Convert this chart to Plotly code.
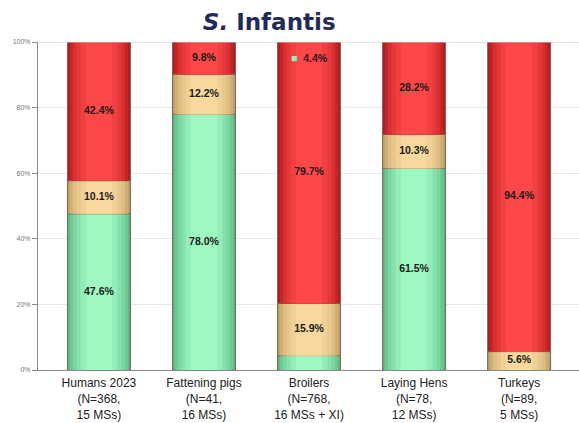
import numpy as np
import plotly.graph_objects as go

categories = [
    "Humans 2023<br>(N=368,<br>15 MSs)",
    "Fattening pigs<br>(N=41,<br>16 MSs)",
    "Broilers<br>(N=768,<br>16 MSs + XI)",
    "Laying Hens<br>(N=78,<br>12 MSs)",
    "Turkeys<br>(N=89,<br>5 MSs)",
]
green_vals = [47.6, 78.0, 4.4, 61.5, 0.0]
tan_vals = [10.1, 12.2, 15.9, 10.3, 5.6]
red_vals = [42.4, 9.8, 79.7, 28.2, 94.4]

# edge -> centre shades to fake the cylinder look
shades = {
    "green": ["#5cb380", "#6cc790", "#7ad6a0", "#86e2ac", "#93edb8", "#9ef8c2"],
    "tan": ["#bf9c66", "#cfae74", "#ddbd82", "#e7c78b", "#f0d094", "#f8d89c"],
    "red": ["#ad1b1e", "#c42427", "#d82f31", "#e6383a", "#f24042", "#fd4749"],
}
widths = [0.6, 0.56, 0.5, 0.43, 0.35, 0.25]

x = np.arange(len(categories))
g = np.array(green_vals)
t = np.array(tan_vals)
r = np.array(red_vals)
segments = [("green", g, np.zeros_like(g)), ("tan", t, g), ("red", r, g + t)]

fig = go.Figure()
for name, vals, base in segments:
    for i, (w, c) in enumerate(zip(widths, shades[name])):
        fig.add_trace(go.Bar(
            x=x, y=vals, base=base, width=w,
            marker=dict(color=c, line=dict(width=1 if i == 0 else 0, color="#7a6a5a")),
            showlegend=False, hoverinfo="skip",
        ))

# segment labels (the small broiler green share is labelled separately)
for name, vals, base in segments:
    labels = ["%.1f%%" % v if v >= 5 else "" for v in vals]
    fig.add_trace(go.Scatter(
        x=x, y=base + vals / 2, mode="text", text=labels,
        textfont=dict(size=10.5, color="#1a1a1a", family="Liberation Sans"),
        texttemplate="<b>%{text}</b>", showlegend=False, hoverinfo="skip",
    ))

fig.add_annotation(
    x=2, y=95.2, xref="x", yref="y", showarrow=False,
    text="<span style='color:#8ef3b4'>■</span>  <b>4.4%</b>",
    font=dict(size=10.5, color="#1a1a1a", family="Liberation Sans"),
)

fig.update_layout(
    barmode="overlay",
    width=579, height=423,
    margin=dict(l=38, r=0, t=42, b=53),
    paper_bgcolor="white", plot_bgcolor="white",
    title=dict(
        text="<b><i>S.</i> Infantis</b>", x=0.465, xanchor="center", y=0.948, yanchor="middle",
        font=dict(size=23, color="#1f2b5b", family="DejaVu Sans"),
    ),
    font=dict(family="Liberation Sans"),
)
fig.update_xaxes(
    tickmode="array", tickvals=x, ticktext=categories,
    range=[-0.58, 4.57], showgrid=False, showline=True, linecolor="#8a8a8a",
    tickfont=dict(size=12, color="#222222"), ticks="", automargin=False,
    ticklabelstandoff=2,
)
fig.update_yaxes(
    range=[0, 100], tickvals=[0, 20, 40, 60, 80, 100],
    ticktext=["0%", "20%", "40%", "60%", "80%", "100%"],
    showgrid=True, gridcolor="#e8e8e8", showline=True, linecolor="#8a8a8a",
    ticks="outside", ticklen=5, tickcolor="#8a8a8a",
    tickfont=dict(size=7, color="#777777"), zeroline=False, automargin=False,
)
fig.add_hline(y=100, line_color="#c8c8c8", line_width=1)

fig.write_html("out.html", config={"displayModeBar": False},
               post_script="document.body.style.margin='0';")
